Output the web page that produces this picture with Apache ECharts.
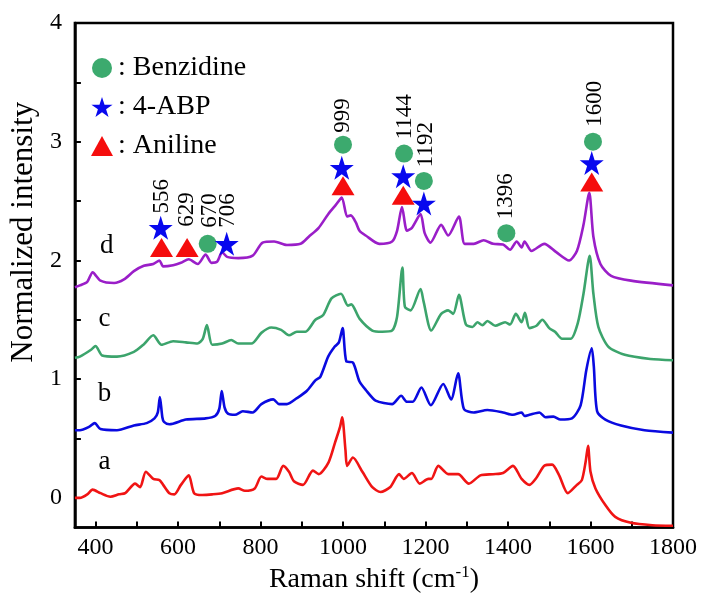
<!DOCTYPE html>
<html>
<head>
<meta charset="utf-8">
<script src="https://cdn.jsdelivr.net/npm/echarts@6/dist/echarts.min.js"></script>
<style>
  html, body { margin: 0; background: #fff; }
  #chart { width: 702px; height: 599px; }
</style>
</head>
<body>
<div id="chart"></div>
<script>
  // spectra, [Raman shift, normalized intensity]
  const specA = [[350,0.0],[362,0.0],[380,0.03],[393,0.07],[412,0.04],[436,0.01],[457,0.03],[472,0.04],[496,0.12],[508,0.09],[522,0.22],[540,0.16],[555,0.15],[564,0.11],[579,0.04],[591,0.03],[607,0.11],[626,0.19],[639,0.04],[659,0.025],[683,0.03],[707,0.04],[746,0.08],[762,0.06],[786,0.08],[802,0.18],[817,0.16],[838,0.16],[855,0.27],[869,0.22],[881,0.14],[903,0.11],[927,0.23],[941,0.2],[965,0.30],[981,0.47],[993,0.60],[998,0.68],[1006,0.40],[1010,0.27],[1024,0.34],[1047,0.22],[1071,0.09],[1091,0.05],[1114,0.09],[1136,0.20],[1147,0.16],[1167,0.21],[1186,0.12],[1207,0.16],[1214,0.16],[1231,0.27],[1255,0.20],[1279,0.20],[1305,0.12],[1333,0.19],[1364,0.20],[1388,0.21],[1412,0.27],[1433,0.16],[1452,0.11],[1469,0.17],[1488,0.27],[1507,0.28],[1524,0.19],[1545,0.04],[1567,0.11],[1579,0.15],[1588,0.30],[1594,0.44],[1600,0.22],[1612,0.08],[1636,-0.06],[1660,-0.16],[1698,-0.21],[1750,-0.23],[1800,-0.235]]
  const specB = [[350,0.57],[362,0.57],[385,0.60],[398,0.63],[412,0.58],[452,0.57],[493,0.61],[524,0.63],[543,0.67],[551,0.72],[556,0.85],[562,0.68],[566,0.64],[579,0.62],[619,0.66],[667,0.67],[690,0.69],[700,0.75],[706,0.90],[713,0.76],[721,0.71],[738,0.70],[757,0.73],[781,0.72],[802,0.79],[831,0.83],[845,0.79],[864,0.79],[888,0.84],[912,0.90],[933,0.99],[945,1.02],[964,1.19],[980,1.275],[990,1.31],[999,1.43],[1008,1.15],[1024,1.14],[1040,0.98],[1055,0.91],[1079,0.82],[1119,0.79],[1141,0.86],[1155,0.81],[1169,0.81],[1190,0.93],[1213,0.78],[1243,0.96],[1262,0.83],[1279,1.05],[1293,0.75],[1317,0.72],[1350,0.74],[1388,0.72],[1412,0.70],[1433,0.72],[1440,0.69],[1452,0.70],[1476,0.72],[1491,0.68],[1510,0.685],[1527,0.66],[1555,0.67],[1576,0.78],[1590,1.08],[1603,1.26],[1608,1.11],[1616,0.73],[1636,0.66],[1674,0.61],[1731,0.57],[1800,0.55]]
  const specC = [[350,1.18],[362,1.19],[390,1.25],[400,1.28],[416,1.2],[452,1.19],[493,1.23],[516,1.29],[540,1.37],[560,1.29],[588,1.32],[619,1.31],[647,1.30],[660,1.34],[670,1.455],[683,1.29],[707,1.30],[729,1.33],[746,1.30],[778,1.30],[802,1.39],[826,1.435],[850,1.415],[869,1.37],[888,1.40],[909,1.40],[933,1.50],[952,1.54],[972,1.68],[995,1.72],[1012,1.62],[1020,1.63],[1040,1.51],[1071,1.41],[1095,1.40],[1119,1.41],[1131,1.525],[1144,1.94],[1150,1.61],[1164,1.58],[1188,1.76],[1195,1.66],[1214,1.41],[1238,1.55],[1255,1.58],[1267,1.55],[1281,1.71],[1298,1.46],[1314,1.44],[1326,1.48],[1338,1.455],[1350,1.49],[1369,1.45],[1393,1.48],[1405,1.46],[1419,1.55],[1433,1.48],[1441,1.56],[1452,1.43],[1469,1.45],[1483,1.50],[1500,1.43],[1514,1.40],[1531,1.34],[1552,1.34],[1569,1.47],[1583,1.72],[1598,2.04],[1607,1.72],[1619,1.44],[1643,1.275],[1683,1.205],[1745,1.17],[1800,1.16]]
  const specD = [[350,1.775],[362,1.79],[380,1.82],[393,1.90],[412,1.83],[445,1.81],[469,1.84],[493,1.91],[517,1.955],[540,1.97],[555,2.00],[564,1.95],[588,1.96],[607,1.98],[626,2.01],[648,1.97],[667,2.05],[681,1.98],[695,1.99],[707,2.07],[719,2.03],[746,2.02],[781,2.04],[805,2.15],[833,2.16],[864,2.13],[897,2.14],[917,2.20],[941,2.275],[964,2.39],[983,2.47],[997,2.53],[1010,2.37],[1019,2.38],[1031,2.32],[1040,2.25],[1055,2.21],[1088,2.14],[1119,2.16],[1131,2.25],[1143,2.45],[1155,2.25],[1167,2.275],[1188,2.39],[1198,2.23],[1212,2.15],[1238,2.30],[1255,2.21],[1281,2.37],[1295,2.14],[1317,2.14],[1341,2.17],[1364,2.14],[1388,2.135],[1405,2.09],[1421,2.16],[1433,2.11],[1440,2.16],[1457,2.08],[1488,2.14],[1517,2.07],[1548,2.00],[1567,2.08],[1583,2.30],[1597,2.57],[1607,2.20],[1624,1.97],[1650,1.87],[1698,1.83],[1800,1.79]]

  // peak markers
  const benzidineX = [672, 1000, 1148, 1196, 1396, 1606]
  const benzidineY = [2.14, 2.975, 2.90, 2.67, 2.23, 3.0]
  const abpX = [558, 718, 997, 1146, 1196, 1603]
  const abpY = [2.275, 2.14, 2.78, 2.71, 2.48, 2.82]
  const anilineX = [560, 622, 1000, 1146, 1603]
  const anilineY = [2.11, 2.11, 2.63, 2.55, 2.66]

  // peak numbers (rotated)
  const peakText = ['556', '629', '670', '706', '999', '1144', '1192', '1396', '1600']
  const peakX = [562, 622, 677, 722, 1000, 1149, 1200, 1396, 1610]
  const peakY = [2.54, 2.43, 2.42, 2.42, 3.22, 3.21, 2.975, 2.54, 3.32]

  // curve letters
  const curveNames = ['a', 'b', 'c', 'd']
  const curveLabelX = [422, 422, 422, 427]
  const curveLabelY = [0.30, 0.88, 1.51, 2.125]

  const xLabelTicks = [400, 600, 800, 1000, 1200, 1400, 1600, 1800]
  const xTickMarks = [400, 500, 600, 700, 800, 900, 1000, 1100, 1200, 1300, 1400, 1500, 1600, 1700]
  const yLabelTicks = [0, 1, 2, 3, 4]
  const yTickMarks = [0, 0.5, 1, 1.5, 2, 2.5, 3, 3.5]

  const serif = 'Liberation Serif'
  const starPath = 'path://M50 0L61.8 35.4 99 35.4 68.9 57.3 80.4 92.7 50 70.8 19.6 92.7 31.1 57.3 1 35.4 38.2 35.4Z'

  const zip = (xs, ys) => xs.map((x, i) => [x, ys[i]])

  function spectrum(data, color) {
    return {
      type: 'line',
      data: data,
      smooth: 0.25,
      showSymbol: false,
      lineStyle: { color: color, width: 2.6 },
      z: 2
    }
  }

  // plain text placed through the axes
  function textSeries(names, xs, ys, fontSize, rotate) {
    return {
      type: 'custom',
      silent: true,
      z: 6,
      data: zip(xs, ys),
      renderItem: (params, api) => {
        const p = api.coord([api.value(0), api.value(1)])
        return {
          type: 'text',
          x: p[0],
          y: p[1],
          rotation: rotate * Math.PI / 180,
          style: {
            text: names[params.dataIndex],
            fontFamily: serif,
            fontSize: fontSize,
            fill: '#000',
            align: 'center',
            verticalAlign: 'middle'
          }
        }
      }
    }
  }

  const chart = echarts.init(document.getElementById('chart'))
  chart.setOption({
    animation: false,
    grid: {
      left: 67,
      right: 29,
      top: 23,
      bottom: 66,
      show: true,
      borderColor: '#000',
      borderWidth: 2.5
    },
    legend: {
      orient: 'vertical',
      left: 86,
      top: 49,
      itemGap: 11,
      itemWidth: 22,
      itemHeight: 20,
      selectedMode: false,
      formatter: ': {name}',
      textStyle: { fontFamily: serif, fontSize: 28, color: '#000', lineHeight: 28 },
      data: ['Benzidine', '4-ABP', 'Aniline']
    },
    xAxis: {
      type: 'value',
      min: 350,
      max: 1800,
      name: 'Raman shift (cm{sup|-1})',
      nameLocation: 'middle',
      nameGap: 33,
      nameTextStyle: {
        fontFamily: serif, fontSize: 28, color: '#000',
        rich: { sup: { fontFamily: serif, fontSize: 17, color: '#000', verticalAlign: 'top', padding: [0, 0, 14, 0] } }
      },
      axisLine: { onZero: false, lineStyle: { color: '#000', width: 2.5 } },
      axisTick: { inside: true, length: 6, customValues: xTickMarks, lineStyle: { color: '#000', width: 2 } },
      axisLabel: { customValues: xLabelTicks, formatter: v => String(v), margin: 8, fontFamily: serif, fontSize: 24, color: '#000' },
      splitLine: { show: false }
    },
    yAxis: {
      type: 'value',
      min: -0.25,
      max: 4,
      name: 'Normalized intensity',
      nameLocation: 'middle',
      nameGap: 10,
      nameTextStyle: { fontFamily: serif, fontSize: 31, color: '#000', padding: [0, 0, 0, 86] },
      axisLine: { onZero: false, lineStyle: { color: '#000', width: 2.5 } },
      axisTick: { inside: true, length: 6, customValues: yTickMarks, lineStyle: { color: '#000', width: 2 } },
      axisLabel: { customValues: yLabelTicks, formatter: v => String(v), margin: 13, fontFamily: serif, fontSize: 24, color: '#000' },
      splitLine: { show: false }
    },
    series: [
      spectrum(specA, '#f01414'),
      spectrum(specB, '#0a0ae0'),
      spectrum(specC, '#3ca46c'),
      spectrum(specD, '#9a1ec8'),
      {
        name: 'Benzidine',
        type: 'scatter',
        symbol: 'circle',
        symbolSize: 18,
        itemStyle: { color: '#3caa6e', opacity: 1 },
        data: zip(benzidineX, benzidineY),
        z: 5
      },
      {
        name: '4-ABP',
        type: 'scatter',
        symbol: starPath,
        symbolSize: 24,
        itemStyle: { color: '#0808ee', opacity: 1 },
        data: zip(abpX, abpY),
        z: 5
      },
      {
        name: 'Aniline',
        type: 'scatter',
        symbol: 'triangle',
        symbolSize: [23, 19],
        itemStyle: { color: '#f50d0d', opacity: 1 },
        data: zip(anilineX, anilineY),
        z: 5
      },
      textSeries(peakText, peakX, peakY, 23, 90),
      textSeries(curveNames, curveLabelX, curveLabelY, 27, 0)
    ]
  })
</script>
</body>
</html>
